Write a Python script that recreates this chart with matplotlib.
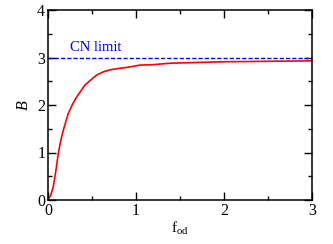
import numpy as np
import matplotlib.pyplot as plt

plt.rcParams['font.family'] = ['Liberation Serif', 'DejaVu Serif']
plt.rcParams['mathtext.fontset'] = 'custom'
plt.rcParams['mathtext.rm'] = 'Liberation Serif'
plt.rcParams['mathtext.it'] = 'Liberation Serif:italic'

# curve
f_od = [0.0, 0.03, 0.06, 0.09, 0.117, 0.145, 0.174, 0.23, 0.28, 0.326, 0.42, 0.5, 0.553,
        0.63, 0.705, 0.8, 0.894, 1.045, 1.2, 1.386, 1.6, 1.99, 2.5, 3.0]
B = [0.0, 0.1, 0.28, 0.62, 0.98, 1.25, 1.47, 1.82, 2.02, 2.17, 2.42, 2.55, 2.63,
     2.7, 2.74, 2.77, 2.79, 2.84, 2.85, 2.88, 2.89, 2.91, 2.92, 2.93]
cn_limit = 3.0

fig = plt.figure(figsize=(3.33, 2.44), dpi=100)
ax = fig.add_axes([48/333, 44/244, 264/333, 190/244])

ax.plot(f_od, B, color='red', lw=1.2)
ax.plot([0, 3], [cn_limit, cn_limit], color='blue', lw=1.0, ls=(0, (3, 1.5)))
ax.text(0.25, 3.22, 'CN limit', color='blue', fontsize=10.5, va='center')

ax.set_xlim(0, 3)
ax.set_ylim(0, 4)
ax.set_xticks([0, 1, 2, 3])
ax.set_yticks([0, 1, 2, 3, 4])
ax.set_xticks(np.arange(0.5, 3, 1), minor=True)
ax.set_yticks(np.arange(0.5, 4, 1), minor=True)
ax.tick_params(which='both', direction='in', top=True, right=True, labelsize=11.5, pad=2)
ax.tick_params(which='major', length=6, width=1)
ax.tick_params(which='minor', length=3, width=1)
for s in ax.spines.values():
    s.set_linewidth(1.1)

ax.set_xlabel(r'f$_{\rm od}$', fontsize=11, labelpad=1)
ax.set_ylabel(r'$\it{B}$', fontsize=11.5, labelpad=4)

fig.savefig('out.png', dpi=100)
